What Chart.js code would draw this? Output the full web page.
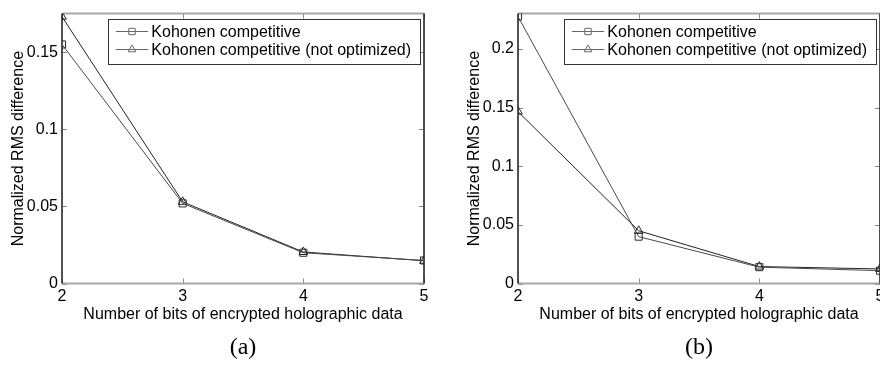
<!DOCTYPE html>
<html>
<head>
<meta charset="utf-8">
<script src="https://cdn.jsdelivr.net/npm/chart.js@4.4.1/dist/chart.umd.min.js"></script>
<style>
  html, body { margin: 0; padding: 0; background: #fff; overflow: hidden; }
  body { width: 880px; height: 365px; position: relative; }
  canvas { position: absolute; top: 0; }
  #chartA { left: 0; }
  #chartB { left: 456px; }
</style>
</head>
<body>
<canvas id="chartA" width="484" height="365"></canvas>
<canvas id="chartB" width="484" height="365"></canvas>
<script>
// number of bits (x) and normalized RMS difference
const bits = [2, 3, 4, 5];
const rmsA = [0.155, 0.052, 0.020, 0.015];
const rmsA_notOpt = [0.173, 0.053, 0.0205, 0.0148];
const rmsB = [0.2275, 0.040, 0.014, 0.011];
const rmsB_notOpt = [0.1465, 0.045, 0.0145, 0.0125];

const xTicks = [2, 3, 4, 5];
const yTicksA = [0, 0.05, 0.1, 0.15];
const yTicksB = [0, 0.05, 0.1, 0.15, 0.2];
const yMaxA = 0.175;
const yMaxB = 0.23;

const labelOpt = "Kohonen competitive";
const labelNotOpt = "Kohonen competitive (not optimized)";
const xTitle = "Number of bits of encrypted holographic data";
const yTitle = "Normalized RMS difference";

const SANS = "'Liberation Sans', Arial, sans-serif";

// MATLAB-like box with inward tick marks
const frameTicks = {
  id: "frameTicks",
  beforeDatasetsDraw(chart) {
    const { ctx, chartArea: a, scales } = chart;
    ctx.save();
    ctx.lineWidth = 1;
    ctx.strokeStyle = "#8a8a8a";
    ctx.beginPath();
    scales.y.ticks.forEach(t => {
      const py = Math.round(scales.y.getPixelForValue(t.value)) + 0.5;
      ctx.moveTo(a.left, py); ctx.lineTo(a.left + 5, py);
      ctx.moveTo(a.right, py); ctx.lineTo(a.right - 5, py);
    });
    scales.x.ticks.forEach(t => {
      const px = Math.round(scales.x.getPixelForValue(t.value)) + 0.5;
      ctx.moveTo(px, a.bottom); ctx.lineTo(px, a.bottom - 5);
      ctx.moveTo(px, a.top); ctx.lineTo(px, a.top + 5);
    });
    ctx.stroke();

    ctx.lineWidth = 2;
    ctx.strokeStyle = "#a8a8a8";
    ctx.beginPath();
    ctx.moveTo(a.left, a.top); ctx.lineTo(a.right, a.top);
    ctx.moveTo(a.left, a.bottom); ctx.lineTo(a.right, a.bottom);
    ctx.stroke();
    ctx.strokeStyle = "#1a1a1a";
    ctx.lineWidth = 1.5;
    ctx.beginPath();
    ctx.moveTo(a.left, a.top); ctx.lineTo(a.left, a.bottom);
    ctx.moveTo(a.right, a.top); ctx.lineTo(a.right, a.bottom);
    ctx.stroke();
    ctx.restore();
  }
};

// boxed legend with line + marker samples
const boxLegend = {
  id: "boxLegend",
  afterDraw(chart, args, opts) {
    const { ctx, chartArea: a } = chart;
    ctx.save();
    ctx.font = "16px " + SANS;
    const sets = chart.data.datasets;
    const textW = Math.max(...sets.map(d => ctx.measureText(d.label).width));
    const right = Math.round(a.right - opts.offsetRight);
    const top = Math.round(a.top + 5);
    const textX = right - 9 - textW;
    const left = Math.round(textX - 43);
    const h = 45;
    ctx.fillStyle = "#fff";
    ctx.fillRect(left, top, right - left, h);
    ctx.strokeStyle = "#333";
    ctx.lineWidth = 1;
    ctx.strokeRect(left + 0.5, top + 0.5, right - left, h);
    sets.forEach((d, i) => {
      const cy = top + 12.5 + i * 18;
      ctx.strokeStyle = "#666";
      ctx.beginPath();
      ctx.moveTo(left + 8, cy); ctx.lineTo(left + 40, cy);
      ctx.stroke();
      ctx.fillStyle = "rgba(0,0,0,0)";
      Chart.helpers.drawPoint(ctx, { pointStyle: d.pointStyle, radius: 4.5, borderWidth: 1, rotation: 0 }, left + 24, cy);
      ctx.fillStyle = "#000";
      ctx.textBaseline = "middle";
      ctx.fillText(d.label, textX, cy + 1);
    });
    ctx.restore();
  }
};

function makeChart(id, caption, yOpt, yNot, yMax, yTicks) {
  const ctx = document.getElementById(id).getContext("2d");
  return new Chart(ctx, {
    type: "line",
    data: {
      datasets: [
        {
          label: labelOpt,
          data: bits.map((b, i) => ({ x: b, y: yOpt[i] })),
          borderColor: "#4a4a4a",
          borderWidth: 1,
          pointStyle: "rect",
          pointRadius: 5,
          pointBorderWidth: 1,
          pointBorderColor: "#2a2a2a",
          pointBackgroundColor: "rgba(0,0,0,0)",
          tension: 0,
        },
        {
          label: labelNotOpt,
          data: bits.map((b, i) => ({ x: b, y: yNot[i] })),
          borderColor: "#222",
          borderWidth: 1,
          pointStyle: "triangle",
          pointRadius: 5,
          pointBorderWidth: 1,
          pointBorderColor: "#222",
          pointBackgroundColor: "rgba(0,0,0,0)",
          tension: 0,
        },
      ],
    },
    options: {
      responsive: false,
      animation: false,
      devicePixelRatio: 1,
      layout: { padding: { left: 0, right: 60, top: 10, bottom: 0 } },
      plugins: {
        legend: { display: false },
        tooltip: { enabled: false },
        title: {
          display: true,
          text: caption,
          position: "bottom",
          fullSize: false,
          color: "#000",
          font: { family: "'Liberation Serif', 'Times New Roman', serif", size: 24, weight: "normal" },
          padding: { top: 9, bottom: 2.6 },
        },
        boxLegend: { offsetRight: 4 },
      },
      scales: {
        x: {
          type: "linear",
          min: 2,
          max: 5,
          afterFit: s => { s.height = 41; },
          afterBuildTicks: s => { s.ticks = xTicks.map(v => ({ value: v })); },
          grid: { display: false, drawTicks: false },
          border: { display: false },
          ticks: { padding: 3, color: "#000", font: { family: SANS, size: 16 } },
          title: { display: true, text: xTitle, color: "#000", font: { family: SANS, size: 16 }, padding: 0 },
        },
        y: {
          min: 0,
          max: yMax,
          afterFit: s => { s.width = 62; },
          afterBuildTicks: s => { s.ticks = yTicks.map(v => ({ value: v })); },
          grid: { display: false, drawTicks: false },
          border: { display: false },
          ticks: {
            padding: 4,
            color: "#000",
            font: { family: SANS, size: 16 },
            callback: v => String(+v.toFixed(3)),
          },
          title: { display: true, text: yTitle, color: "#000", font: { family: SANS, size: 16 }, padding: { top: 9 } },
        },
      },
    },
    plugins: [frameTicks, boxLegend],
  });
}

makeChart("chartA", "(a)", rmsA, rmsA_notOpt, yMaxA, yTicksA);
makeChart("chartB", "(b)", rmsB, rmsB_notOpt, yMaxB, yTicksB);
</script>
</body>
</html>
